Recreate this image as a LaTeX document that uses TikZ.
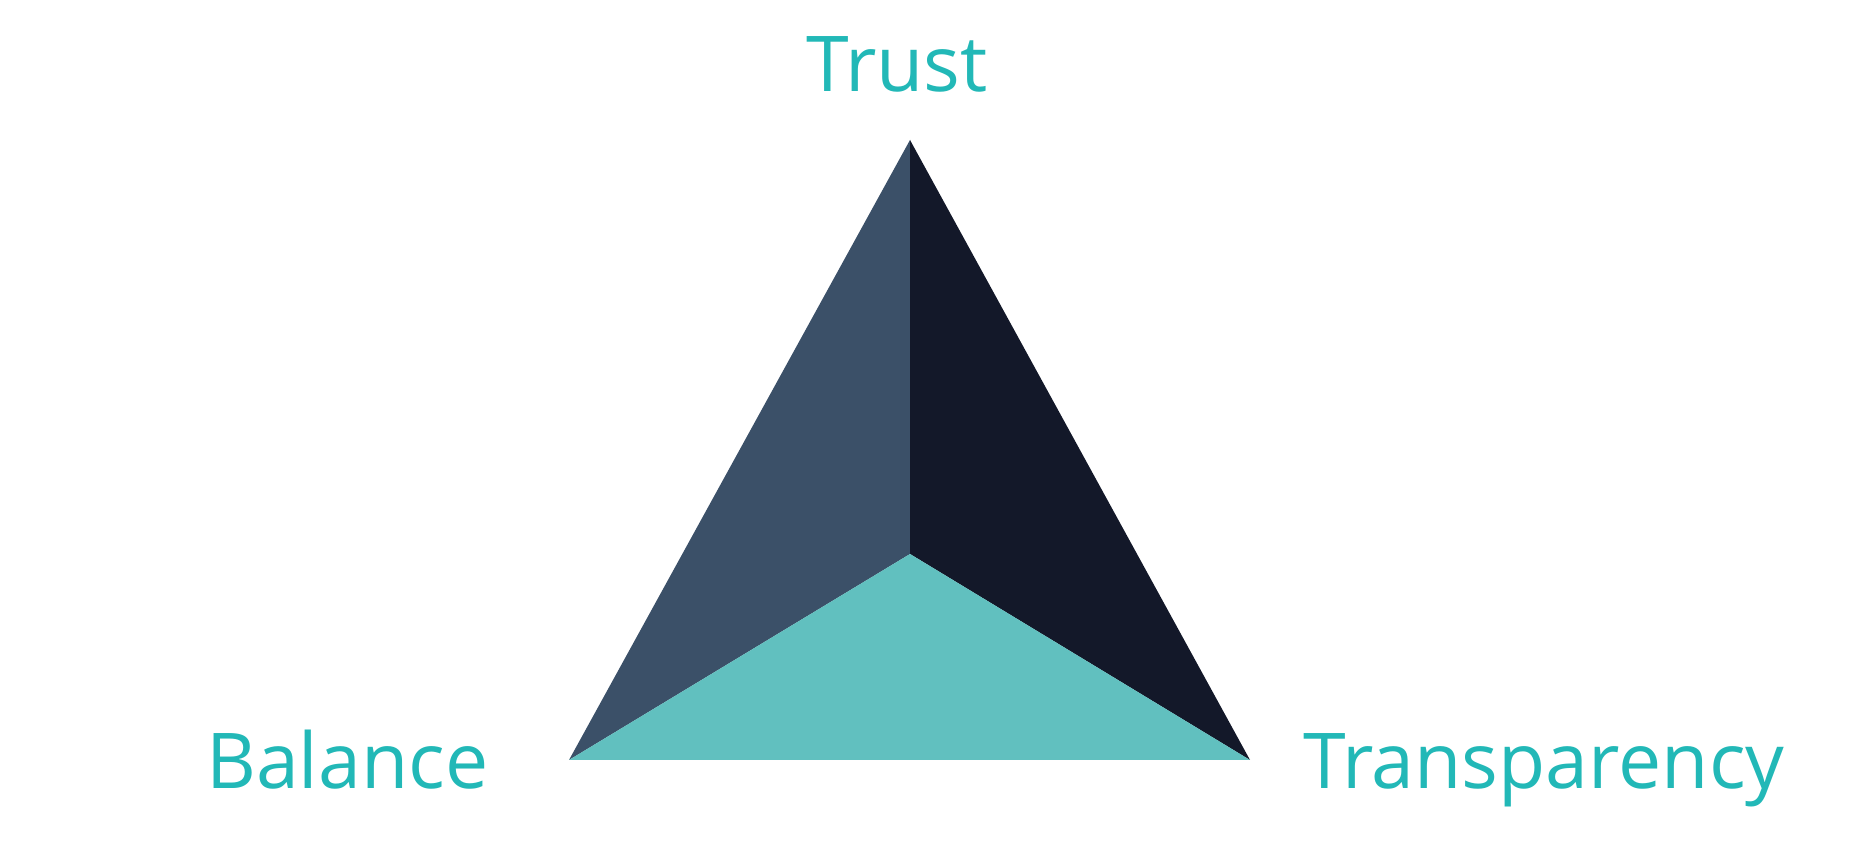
\documentclass[tikz,border=0pt]{standalone}
\usepackage{fontspec}
\setmainfont{Open Sans}
\definecolor{lblue}{HTML}{3B5068}
\definecolor{dnavy}{HTML}{131829}
\definecolor{teal}{HTML}{61C0BF}
\definecolor{txt}{HTML}{22B8B7}
\begin{document}
\begin{tikzpicture}[x=1pt,y=1pt,lbl/.style={text=txt,font=\fontsize{77}{80}\selectfont,inner sep=0pt,anchor=base west}]
\useasboundingbox (0,0) rectangle (1867,853);
\coordinate (A) at (910,713);
\coordinate (L) at (569,93);
\coordinate (R) at (1250,93);
\coordinate (C) at (910,299);
\fill[lblue] (A) -- (L) -- (C) -- cycle;
\fill[dnavy] (A) -- (C) -- (R) -- cycle;
\fill[teal] (L) -- (C) -- (R) -- cycle;
\node[lbl] (trust) at (806,761) {Trust};
\node[lbl] (bal) at (206,64) {Balance};
\node[lbl] (tr) at (1303,64) {Transparency};
\end{tikzpicture}
\end{document}
